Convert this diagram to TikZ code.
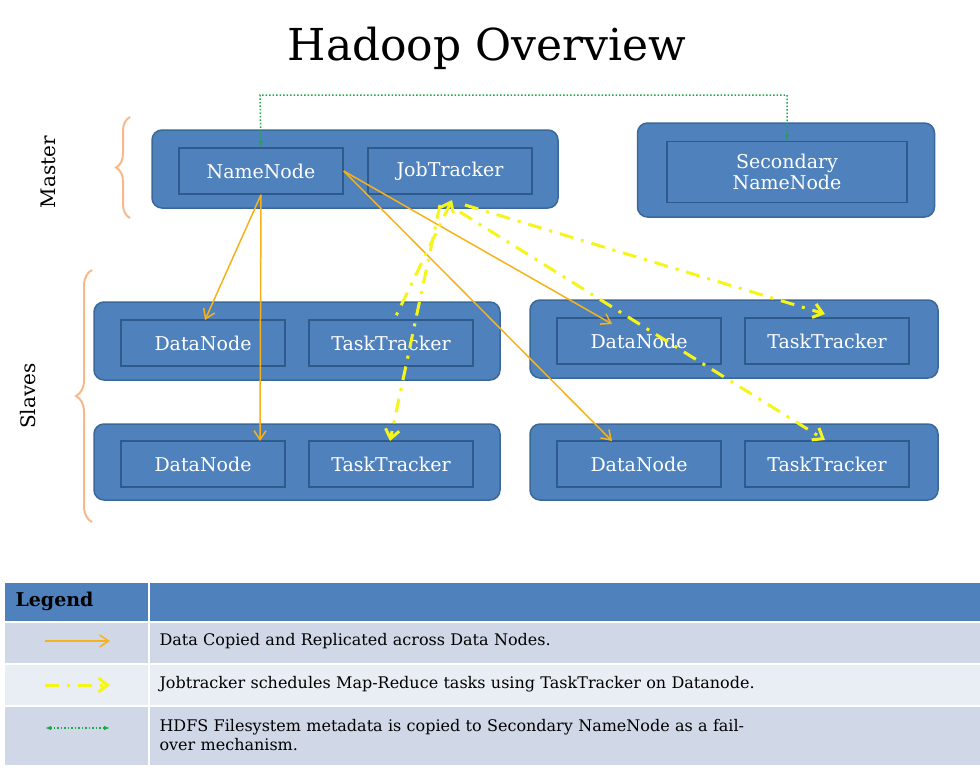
\documentclass[tikz,border=0pt]{standalone}
\usepackage{fontspec}
\setmainfont{DejaVu Serif}
\usetikzlibrary{positioning,arrows.meta,decorations.pathreplacing}
\definecolor{boxblue}{HTML}{4F81BD}
\definecolor{boxline}{HTML}{3A6898}
\definecolor{innerline}{HTML}{2E5A8C}
\definecolor{rowa}{HTML}{D0D8E8}
\definecolor{rowb}{HTML}{E9EDF4}
\definecolor{arrorange}{HTML}{F5B21A}
\definecolor{arryellow}{HTML}{F5F51A}
\definecolor{arrgreen}{HTML}{1AA84A}
\definecolor{bracecol}{HTML}{F8B88A}
\tikzset{
  outer/.style={draw=boxline,fill=boxblue,line width=1.5pt,rounded corners=10pt,minimum height=78pt},
  inner/.style={draw=innerline,line width=1.5pt,text=white,minimum width=164pt,minimum height=46pt,font=\fontsize{19}{21}\selectfont,align=center,inner sep=0pt},
  data/.style={draw=arrorange,line width=1.5pt,-{Straight Barb[length=9pt,width=12pt]}},
  task/.style={draw=arryellow,line width=3pt,dash pattern=on 14pt off 8pt on 3pt off 8pt,-{Straight Barb[length=9pt,width=14pt]}},
  meta/.style={draw=arrgreen,line width=1.5pt,dotted,{Latex[length=6pt]}-{Latex[length=6pt]}},
  cell/.style={anchor=north west,inner sep=0pt,draw=white,line width=2pt},
  legtext/.style={anchor=west,font=\fontsize{16}{19}\selectfont,align=left,text width=600pt}
}
\begin{document}
\begin{tikzpicture}[x=1pt,y=-1pt]
\useasboundingbox (0,0) rectangle (980,772);
\node at (487,48) {\fontsize{44}{48}\selectfont Hadoop Overview};
% master
\node[outer,minimum width=406pt] (master) at (355,169) {};
\node[inner] (nn) at (261,171) {NameNode};
\node[inner] (jt) at (450,171) {JobTracker};
\node[outer,minimum width=297pt,minimum height=94pt] (sec) at (786,170) {};
\node[inner,minimum width=240pt,minimum height=61pt] (snn) at (787,172) {Secondary\\NameNode};
% slaves
\node[outer,minimum width=406pt] (s1) at (297,341) {};
\node[inner] (dn1) at (203,343) {DataNode};
\node[inner] (tt1) at (391,343) {TaskTracker};
\node[outer,minimum width=408pt] (s2) at (734,339) {};
\node[inner] (dn2) at (639,341) {DataNode};
\node[inner] (tt2) at (827,341) {TaskTracker};
\node[outer,minimum width=406pt,minimum height=76pt] (s3) at (297,462) {};
\node[inner] (dn3) at (203,464) {DataNode};
\node[inner] (tt3) at (391,464) {TaskTracker};
\node[outer,minimum width=408pt,minimum height=76pt] (s4) at (734,462) {};
\node[inner] (dn4) at (639,464) {DataNode};
\node[inner] (tt4) at (827,464) {TaskTracker};
% side labels
\node[rotate=90,font=\fontsize{20}{22}\selectfont] (mlab) at (48,172) {Master};
\node[rotate=90,font=\fontsize{20}{22}\selectfont] (slab) at (28,396) {Slaves};
\draw[bracecol,line width=2pt,decorate,decoration={brace,amplitude=14pt}] (130,218) -- (130,117);
\draw[bracecol,line width=2pt,decorate,decoration={brace,amplitude=16pt}] (92,522) -- (92,270);
% metadata
\coordinate (g1) at (260,95);
\coordinate (g2) at (787,95);
\draw[meta] (nn.north) -- (g1) -- (g2) -- (snn.north);
% data copies
\draw[data] (nn.south) -- (205,320);
\draw[data] (nn.south) -- (260,441);
\draw[data] (nn.east) -- (612,324);
\draw[data] (nn.east) -- (612,441);
% task scheduling
\coordinate (jb) at (452,200);
\draw[task,{Straight Barb[length=9pt,width=14pt]}-] (jb) -- (395,318);
\draw[task] (440,205) -- (390,441);
\draw[task] (465,205) -- (825,314);
\draw[task] (460,212) -- (825,440);
% legend
\node[cell,fill=boxblue,minimum width=146pt,minimum height=40pt] (lh1) at (3,581) {};
\node[cell,fill=boxblue,minimum width=832pt,minimum height=40pt] (lh2) at (148,581) {};
\node[anchor=west,font=\bfseries\fontsize{19}{21}\selectfont] at (12,601) {Legend};
\node[cell,fill=rowa,minimum width=146pt,minimum height=42pt] (la1) at (3,621) {};
\node[cell,fill=rowa,minimum width=832pt,minimum height=42pt] (la2) at (148,621) {};
\node[cell,fill=rowb,minimum width=146pt,minimum height=42pt] (lb1) at (3,663) {};
\node[cell,fill=rowb,minimum width=832pt,minimum height=42pt] (lb2) at (148,663) {};
\node[cell,fill=rowa,minimum width=146pt,minimum height=60pt] (lc1) at (3,705) {};
\node[cell,fill=rowa,minimum width=832pt,minimum height=60pt] (lc2) at (148,705) {};
\coordinate (ka1) at (45,641); \coordinate (ka2) at (110,641);
\coordinate (kb1) at (45,685); \coordinate (kb2) at (110,685);
\coordinate (kc1) at (45,728); \coordinate (kc2) at (110,728);
\draw[data] (ka1) -- (ka2);
\draw[task] (kb1) -- (kb2);
\draw[meta] (kc1) -- (kc2);
\node[legtext] at (156,641) {Data Copied and Replicated across Data Nodes.};
\node[legtext] at (156,684) {Jobtracker schedules Map-Reduce tasks using TaskTracker on Datanode.};
\node[legtext] at (156,735) {HDFS Filesystem metadata is copied to Secondary NameNode as a fail-over mechanism.};
\end{tikzpicture}
\end{document}
